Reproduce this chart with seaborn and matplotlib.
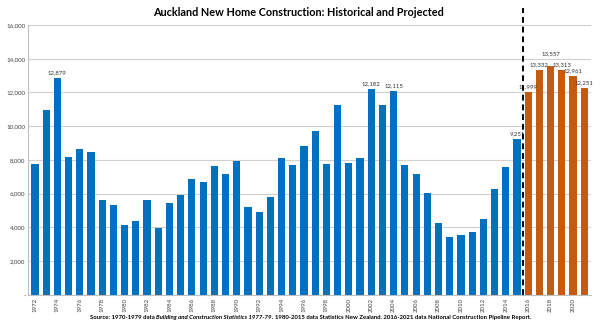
import matplotlib
matplotlib.use("Agg")
import matplotlib.pyplot as plt
import seaborn as sns
import pandas as pd

years = list(range(1972, 2022))
historical = [7750, 10950, 12879, 8200, 8650, 8450, 5650, 5350, 4150, 4400,
              5600, 3950, 5450, 5900, 6850, 6700, 7650, 7150, 7950, 5200,
              4900, 5780, 8100, 7700, 8830, 9720, 7760, 11250, 7800, 8100,
              12182, 11250, 12115, 7700, 7150, 6050, 4250, 3400, 3550, 3700,
              4500, 6250, 7600, 9251]
projected = [11999, 13332, 13557, 13313, 12961, 12251]
labelled_years = [1974, 2002, 2004, 2015, 2016, 2017, 2018, 2019, 2020, 2021]

title = "Auckland New Home Construction: Historical and Projected"
source_parts = [("Source: 1970-1979 data ", "normal"),
                ("Building and Construction Statistics 1977-79", "italic"),
                (". 1980-2015 data Statistics New Zealand. 2016-2021 data National Construction Pipeline Report.", "normal")]

values = historical + projected
kinds = ["Historical"] * len(historical) + ["Projected"] * len(projected)
df = pd.DataFrame({"year": [str(y) for y in years], "value": values, "kind": kinds})

sns.set_theme(style="white")
plt.rcParams["font.family"] = ["Lato", "DejaVu Sans"]

fig = plt.figure(figsize=(6.0, 3.29), dpi=100)
ax = fig.add_axes([0.047, 0.104, 0.938, 0.82])

sns.barplot(data=df, x="year", y="value", hue="kind",
            palette={"Historical": "#0070C0", "Projected": "#C55A11"},
            dodge=False, width=0.64, legend=False, ax=ax, saturation=1,
            edgecolor="none", linewidth=0)

ax.set_ylim(0, 16000)
ax.set_xlim(-0.6, len(years) - 0.4)
yt = list(range(0, 16001, 2000))
ax.set_yticks(yt)
ax.set_yticklabels(["-"] + [f"{v:,}" for v in yt[1:]], fontsize=4.4, color="#404040")
ax.yaxis.grid(True, color="#d0d0d0", linewidth=0.8)
ax.set_axisbelow(True)
xt = list(range(0, len(years), 2))
ax.set_xticks(xt)
ax.set_xticklabels([str(years[i]) for i in xt], rotation=90, fontsize=4.4, color="#404040")
ax.tick_params(axis="both", length=0, pad=2)
ax.set_xlabel("")
ax.set_ylabel("")
for s in ["top", "right"]:
    ax.spines[s].set_visible(False)
ax.spines["left"].set_color("#bfbfbf")
ax.spines["bottom"].set_color("#bfbfbf")
ax.spines["left"].set_linewidth(0.8)
ax.spines["bottom"].set_linewidth(0.8)

for i, (y, v) in enumerate(zip(years, values)):
    if y in labelled_years:
        dy = 7.5 if y == 2018 else 2.0
        ax.annotate(f"{v:,}", (i, v), xytext=(0, dy), textcoords="offset points",
                    ha="center", va="bottom", fontsize=4.3, color="#303030")

ax.axvline(len(historical) - 0.5, ymin=0, ymax=1.063, color="black",
           linestyle=(0, (3, 2)), linewidth=1.4, clip_on=False, zorder=5)

fig.text(0.497, 0.962, title, ha="center", va="center", fontsize=7.8,
         fontweight="bold", color="black")

# source line with mixed italic
fig.canvas.draw()
renderer = fig.canvas.get_renderer()
texts = []
for s, style in source_parts:
    t = fig.text(0, 0.035, s, fontsize=4.3, fontstyle=style, fontweight="bold",
                 color="black", va="center", ha="left")
    texts.append(t)
widths = [t.get_window_extent(renderer).width for t in texts]
total = sum(widths)
x0 = 0.5175 * fig.bbox.width - total / 2
for t, w in zip(texts, widths):
    t.set_x(x0 / fig.bbox.width)
    x0 += w

fig.savefig("out.png", dpi=100)
